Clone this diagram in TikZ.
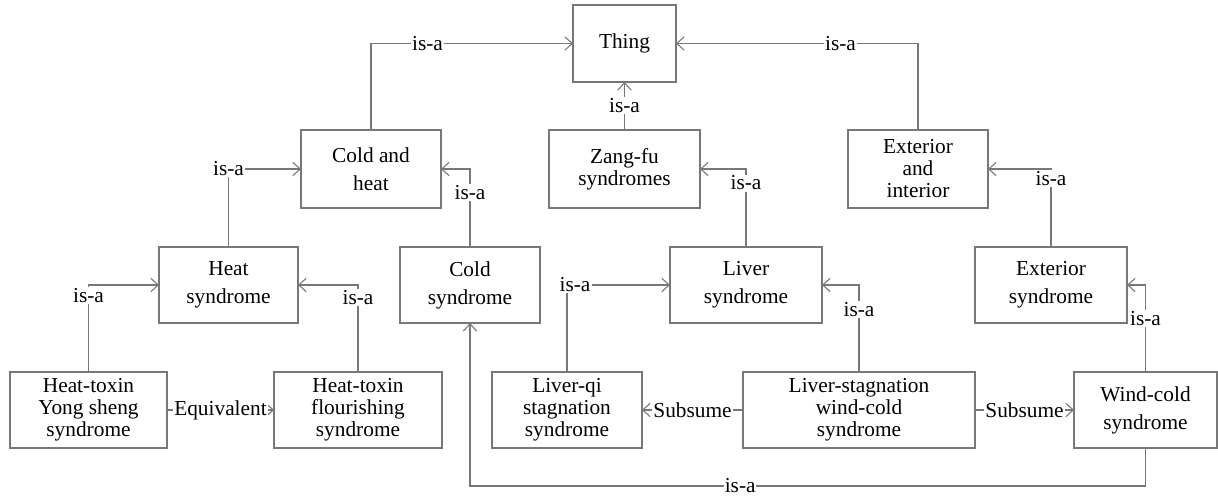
\documentclass[tikz,border=0pt]{standalone}
\usepackage{fontspec}
\setmainfont{Liberation Serif}
\usetikzlibrary{arrows.meta}
\definecolor{lncol}{gray}{0.47}
\begin{document}
\begin{tikzpicture}[x=0.75pt,y=-0.75pt,
  box/.style={draw=lncol, line width=0.8pt, rectangle, inner sep=0pt, outer sep=0pt, align=center, text=black},
  two/.style={font=\fontsize{16}{21}\selectfont},
  three/.style={font=\fontsize{16}{16.5}\selectfont},
  conn/.style={draw=lncol, line width=0.8pt, -{Straight Barb[length=5.5pt,width=10pt]}},
  lbl/.style={fill=white, inner sep=1pt, font=\fontsize{16}{18}\selectfont, text=black}]
\useasboundingbox (0,0) rectangle (1218,498);
\fill[white] (0,0) rectangle (1218,498);
% row 1
\node[box,two,minimum width=77.25pt,minimum height=57.75pt] (thing) at (624.5,43.5) {Thing};
% row 2
\node[box,two,minimum width=105pt,minimum height=58.5pt] (ch) at (371,169) {Cold and\\heat};
\node[box,three,minimum width=113.25pt,minimum height=58.5pt] (zf) at (624.5,169) {Zang-fu\\syndromes};
\node[box,three,minimum width=105pt,minimum height=58.5pt] (ei) at (918,169) {Exterior\\and\\interior};
% row 3
\node[box,two,minimum width=104.25pt,minimum height=57pt] (heat) at (228.5,285) {Heat\\syndrome};
\node[box,two,minimum width=105pt,minimum height=57pt] (cold) at (470,285) {Cold\\syndrome};
\node[box,two,minimum width=114pt,minimum height=57pt] (liver) at (746,285) {Liver\\syndrome};
\node[box,two,minimum width=114pt,minimum height=57pt] (exs) at (1051,285) {Exterior\\syndrome};
% row 4
\node[box,three,minimum width=117.75pt,minimum height=57pt] (ys) at (88.5,410) {Heat-toxin\\Yong sheng\\syndrome};
\node[box,three,minimum width=126pt,minimum height=57pt] (fl) at (358,410) {Heat-toxin\\flourishing\\syndrome};
\node[box,three,minimum width=112.5pt,minimum height=57pt] (lq) at (567,410) {Liver-qi\\stagnation\\syndrome};
\node[box,three,minimum width=174pt,minimum height=57pt] (ls) at (859,410) {Liver-stagnation\\wind-cold\\syndrome};
\node[box,two,minimum width=107.25pt,minimum height=57pt] (wc) at (1145.5,410) {Wind-cold\\syndrome};
\coordinate (bot) at (0,486);
% connectors
\draw[conn] (ch.north) |- node[lbl,pos=0.64]{is-a} (thing.west);
\draw[conn] (zf.north) -- node[lbl]{is-a} (thing.south);
\draw[conn] (ei.north) |- node[lbl,pos=0.66]{is-a} (thing.east);
\draw[conn] (heat.north) |- node[lbl,pos=0.5]{is-a} (ch.west);
\draw[conn] (cold.north) |- node[lbl,pos=0.35]{is-a} (ch.east);
\draw[conn] (liver.north) |- node[lbl,pos=0.41]{is-a} (zf.east);
\draw[conn] (exs.north) |- node[lbl,pos=0.44]{is-a} (ei.east);
\draw[conn] (ys.north) |- node[lbl,pos=0.44]{is-a} (heat.west);
\draw[conn] (fl.north) |- node[lbl,pos=0.43]{is-a} (heat.east);
\draw[conn] (lq.north) |- node[lbl,pos=0.5,xshift=6pt]{is-a} (liver.west);
\draw[conn] (ls.north) |- node[lbl,pos=0.36]{is-a} (liver.east);
\draw[conn] (wc.north) |- node[lbl,pos=0.31]{is-a} (exs.east);
\draw[conn] (ys.east) -- node[lbl]{Equivalent} (fl.west);
\draw[conn] (ls.west) -- node[lbl]{Subsume} (lq.east);
\draw[conn] (ls.east) -- node[lbl]{Subsume} (wc.west);
\draw[conn] (wc.south) -- (wc.south |- bot) -| node[lbl,pos=0.3,inner sep=0.5pt]{is-a} (cold.south);
\end{tikzpicture}
\end{document}
